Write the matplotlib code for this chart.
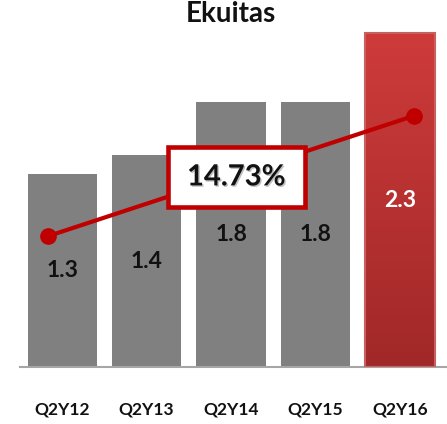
import matplotlib
matplotlib.use("Agg")
import matplotlib.pyplot as plt
import matplotlib.patches as mpatches
import matplotlib.patheffects as pe
import numpy as np
from matplotlib.colors import LinearSegmentedColormap

plt.rcParams['font.family'] = ['Lato', 'DejaVu Sans']

categories = ["Q2Y12", "Q2Y13", "Q2Y14", "Q2Y15", "Q2Y16"]
equity = [1.31, 1.44, 1.80, 1.80, 2.27]  # shown with one decimal
growth_label = "14.73%"
growth_x = [-0.17, 4.17]    # the growth line sits on its own scale
growth_line = [0.89, 1.71]

fig = plt.figure(figsize=(4.47, 4.24), dpi=100)
ax = fig.add_axes([0.0447, 0.1344, 0.9553, 0.8667])

x = np.arange(len(categories))
bars = ax.bar(x, equity, width=0.82, color="#808080", zorder=2)

# last bar gets a red gradient
last = bars[-1]
last.set_facecolor("none")
bx, bw, bh = last.get_x(), last.get_width(), last.get_height()
grad = np.linspace(0, 1, 256).reshape(-1, 1)
cmap = LinearSegmentedColormap.from_list("red", ["#A12828", "#CE3B3B"])
img = ax.imshow(grad, extent=[bx, bx + bw, 0, bh], origin="lower", cmap=cmap,
                aspect="auto", zorder=2)
img.set_clip_path(last)
ax.add_patch(mpatches.Rectangle((bx, 0), bw, bh, fill=False,
                                edgecolor="#C86060", lw=1.5, zorder=3))

for i, v in enumerate(equity):
    col = "white" if i == len(equity) - 1 else "#111111"
    ax.text(i, v / 2, f"{v:.1f}", ha="center", va="center", fontsize=16.5,
            fontweight="bold", color=col, zorder=5)

ax.plot(growth_x, growth_line, color="#C00000", lw=3, marker="o",
        markersize=11, zorder=4)

ax.add_patch(mpatches.Rectangle((1.25, 1.088), 1.62, 0.408, facecolor="white",
                                edgecolor="#C00000", lw=3.3, zorder=6))
ax.text(2.06, 1.29, growth_label, ha="center", va="center", fontsize=21,
        fontweight="bold", color="#111111", zorder=7,
        path_effects=[pe.withSimplePatchShadow(offset=(1, -1), alpha=0.25)])

ax.set_xlim(-0.5, 4.556)
ax.set_ylim(0, 2.5)
for s in ["top", "left", "right"]:
    ax.spines[s].set_visible(False)
ax.spines["bottom"].set_color("#A6A6A6")
ax.spines["bottom"].set_linewidth(1.5)
ax.set_yticks([])
ax.set_xticks(x)
ax.set_xticklabels(categories, fontsize=12.5, fontweight="bold", color="#111111")
ax.tick_params(axis="x", length=0, pad=25)

fig.text(0.517, 0.966, "Ekuitas", ha="center", va="center", fontsize=20,
         fontweight="bold", color="#111111")

fig.savefig("out.png", dpi=100)
